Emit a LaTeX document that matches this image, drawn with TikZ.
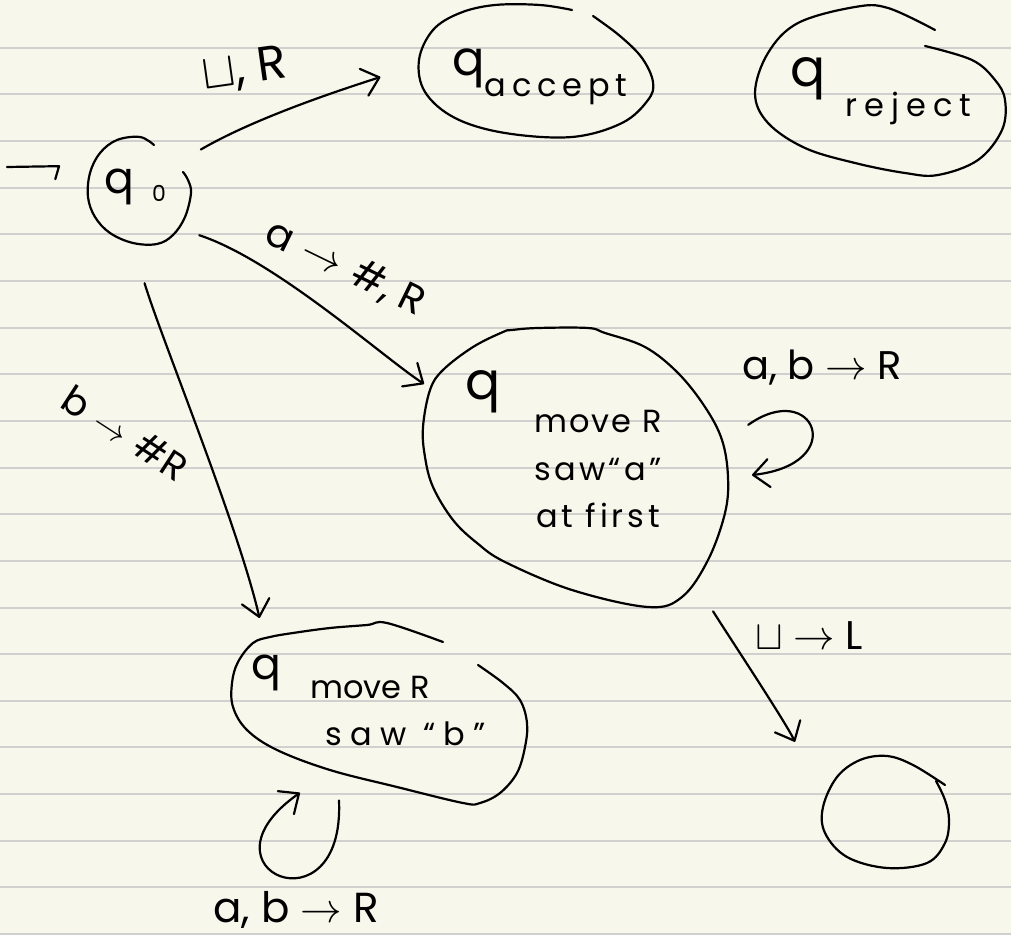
\documentclass[tikz,border=0pt]{standalone}
\usepackage{fontspec}
\setmainfont{Poppins}
\usetikzlibrary{arrows.meta,shapes.geometric}
\definecolor{paper}{RGB}{248,247,236}
\definecolor{rulegrey}{RGB}{208,208,206}
\newcommand\handsize[1]{\fontsize{#1}{#1}\selectfont}
\newcommand\spread[1]{\addfontfeatures{LetterSpace=#1}}
\begin{document}
\begin{tikzpicture}[x=0.5pt,y=-0.5pt,
  ink/.style={draw=black, line width=1.1pt, line cap=round, line join=round},
  state/.style={shape=ellipse, draw=none, inner sep=0pt, outer sep=0pt},
  edge/.style={ink, -{Straight Barb[length=8pt,width=14pt,round]}},
  initedge/.style={ink, -{Straight Barb[harpoon,swap,length=2pt,width=13pt,round]}},
  lbl/.style={inner sep=0pt, text=black},
  outline/.style={ink, smooth, tension=0.6}]
\useasboundingbox (0,0) rectangle (1011,935);
\fill[paper] (0,0) rectangle (1011,935);
% ruled paper
\foreach \k in {0,...,19}
  \draw[rulegrey, line width=1pt] (0,{47.7+46.65*\k}) -- (1011,{47.7+46.65*\k});

% states
\node[state, minimum width=51.5pt, minimum height=53.5pt] (q0) at (140,190) {};
\node[state, minimum width=117.5pt, minimum height=66pt] (qacc) at (535.5,71) {};
\node[state, minimum width=125pt, minimum height=84pt] (qrej) at (880,92) {};
\node[state, minimum width=153pt, minimum height=140pt] (qmove) at (576,467) {};
\node[state, minimum width=147pt, minimum height=88pt] (qb) at (380,712) {};
\node[state, minimum width=63pt, minimum height=56pt] (qf) at (886,812) {};

% hand-drawn state outlines
\draw[outline] plot coordinates {(154,145) (140,137) (117,140) (100,153) (90,173) (88,197) (95,217) (110,233) (133,243) (157,244) (173,235) (185,217) (191,193) (188,180) (183,172)};
\draw[outline] plot coordinates {(572,10) (540,5) (495,5) (460,13) (433,30) (419,60) (425,92) (455,118) (505,133) (572,137) (622,123) (648,100) (653,82) (642,58) (620,36) (593,16)};
\draw[outline] plot coordinates {(935,30) (888,8) (855,7) (798,23) (768,53) (755,93) (768,123) (805,148) (855,163) (905,173) (938,175) (978,160) (1002,130) (1005,100) (995,80) (972,60) (925,46)};
\draw[outline] plot[smooth cycle] coordinates {(512,330) (538,328) (588,328) (605,333) (645,347) (678,373) (705,407) (722,440) (728,477) (725,513) (708,560) (682,597) (648,607) (572,590) (505,562) (477,543) (453,520) (433,487) (425,457) (423,427) (430,390) (443,370) (473,347) (503,332)};
\draw[outline] plot coordinates {(443,642) (387,623) (367,625) (330,628) (293,633) (270,637) (253,643) (238,662) (232,683) (233,707) (247,730) (277,750) (330,770) (397,787) (463,803) (480,803) (500,793) (517,773) (525,747) (527,723) (520,700) (503,683) (478,665)};
\draw[outline] plot coordinates {(945,785) (913,765) (887,756) (860,760) (837,777) (823,807) (825,833) (847,857) (887,868) (927,863) (945,843) (949,820) (945,800) (936,781)};

% state names
\node[lbl, anchor=base west] (tq0) at (104,194) {\handsize{22}q\hspace{9pt}\raisebox{-4pt}{\handsize{11}0}};
\node[lbl, anchor=base west] (tacc) at (452,76) {\handsize{24}q\raisebox{-10.5pt}{\handsize{16}\spread{18}accept}};
\node[lbl, anchor=base west] (trej) at (790,87) {\handsize{26}q\hspace{10pt}\raisebox{-15pt}{\handsize{16}\spread{22}reject}};
\node[lbl, anchor=base west] (tmq) at (465,400) {\handsize{26}q};
\node[lbl, anchor=base] (tm1) at (598,432) {\handsize{16}\spread{6}move R};
\node[lbl, anchor=base] (tm2) at (598,480) {\handsize{16}\spread{10}saw“a”};
\node[lbl, anchor=base] (tm3) at (598,527) {\handsize{16}\spread{12}at first};
\node[lbl, anchor=base west] (tbq) at (251,679) {\handsize{22}q};
\node[lbl, anchor=base west] (tb1) at (310,698) {\handsize{16}move R};
\node[lbl, anchor=base west] (tb2) at (325,745) {\handsize{16}\spread{26}saw “b”};

% start arrow
\coordinate (init) at (7,167);
\draw[initedge, shorten >=17pt] (init) -- (q0.152);

% transitions
\draw[edge, shorten <=10.5pt, shorten >=20pt] (q0.35) .. controls (255,118) and (340,90) .. (qacc.177);
\draw[edge, shorten <=12pt, shorten >=11.7pt] (q0.-46) .. controls (275,260) and (384,358) .. (qmove.152);
\draw[edge, shorten <=21pt, shorten >=19pt] (q0.-98) .. controls (160,335) and (238,525) .. (qb.153);
\draw[edge, shorten <=13.5pt, shorten >=11.8pt] (qmove.10) .. controls (814,378) and (850,464) .. (qmove.-4);
\draw[edge, shorten <=27pt, shorten >=33.5pt] (qmove.-42) .. controls (722,626) and (785,721) .. (qf.171);
\draw[edge, shorten <=2pt, shorten >=4pt] (qb.-116) .. controls (345,935) and (190,870) .. (qb.-134);

% transition labels
\node[lbl, rotate=8] (l1) at (245,70) {\handsize{24}$\sqcup$, R};
\node[lbl, rotate=-26] (l2) at (345,268) {\handsize{20}a\,\,$\rightarrow$\,\,\#, R};
\node[lbl, rotate=-33] (l3) at (125,433) {\handsize{19}b\,\,$\rightarrow$\,\,\#R};
\node[lbl] (l4) at (822,368) {\handsize{20}a, b $\rightarrow$ R};
\node[lbl] (l5) at (809,636) {\handsize{20}$\sqcup$ $\rightarrow$ L};
\node[lbl] (l6) at (296,910) {\handsize{21}a, b $\rightarrow$ R};
\end{tikzpicture}
\end{document}
